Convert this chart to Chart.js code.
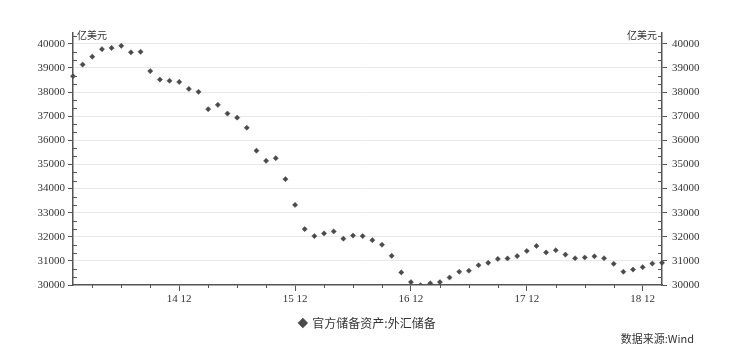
<!DOCTYPE html>
<html>
<head>
<meta charset="utf-8">
<script src="https://cdn.jsdelivr.net/npm/chart.js@4/dist/chart.umd.min.js"></script>
<style>
  html, body { margin: 0; padding: 0; background: #fff; }
  #wrap { width: 735px; height: 352px; }
</style>
</head>
<body>
<div id="wrap"><canvas id="myChart" width="735" height="352"></canvas></div>
<script>
// months 2014-01 .. 2019-02
const months = [
  '14 01','14 02','14 03','14 04','14 05','14 06','14 07','14 08','14 09','14 10','14 11','14 12',
  '15 01','15 02','15 03','15 04','15 05','15 06','15 07','15 08','15 09','15 10','15 11','15 12',
  '16 01','16 02','16 03','16 04','16 05','16 06','16 07','16 08','16 09','16 10','16 11','16 12',
  '17 01','17 02','17 03','17 04','17 05','17 06','17 07','17 08','17 09','17 10','17 11','17 12',
  '18 01','18 02','18 03','18 04','18 05','18 06','18 07','18 08','18 09','18 10','18 11','18 12',
  '19 01','19 02'
];

// 官方储备资产:外汇储备 (亿美元)
const reserves = [
  38660, 39140, 39470, 39780, 39830, 39920, 39650, 39670, 38870, 38520, 38470, 38420,
  38130, 38010, 37290, 37470, 37110, 36940, 36520, 35570, 35150, 35260, 34390, 33320,
  32320, 32030, 32140, 32220, 31920, 32050, 32030, 31860, 31670, 31210, 30520, 30120,
  29990, 30070, 30120, 30310, 30550, 30590, 30820, 30920, 31080, 31100, 31200, 31410,
  31620, 31350, 31440, 31260, 31110, 31140, 31190, 31110, 30880, 30550, 30640, 30740,
  30890, 30920
];

const yTicks = [30000, 31000, 32000, 33000, 34000, 35000, 36000, 37000, 38000, 39000, 40000];

const seriesName = '官方储备资产:外汇储备';
const unitLabel = '亿美元';
const sourceText = '数据来源:Wind';

const axisColor = '#555555';
const textColor = '#333333';
const tickFont = { family: '"Liberation Serif", "Times New Roman", serif', size: 11 };

// minor tick marks, unit labels and source note
const extras = {
  id: 'extras',
  afterDraw(chart) {
    const ctx = chart.ctx;
    const x = chart.scales.x;
    const y = chart.scales.y;
    const area = chart.chartArea;
    ctx.save();
    ctx.strokeStyle = axisColor;
    ctx.lineWidth = 1;
    // y minor ticks (inside)
    for (let k = 0; k <= 31; k++) {
      if (k % 3 === 0) continue;
      const v = 30000 + k * 1000 / 3;
      const py = Math.round(y.getPixelForValue(v)) + 0.5;
      ctx.beginPath();
      ctx.moveTo(area.left, py); ctx.lineTo(area.left + 4, py);
      ctx.moveTo(area.right, py); ctx.lineTo(area.right - 4, py);
      ctx.stroke();
    }
    // x minor ticks every quarter
    months.forEach((m, i) => {
      if (i % 3 !== 2 || i % 12 === 11) return;
      const px = Math.round(x.getPixelForValue(i)) + 0.5;
      ctx.beginPath();
      ctx.moveTo(px, area.bottom); ctx.lineTo(px, area.bottom + 3);
      ctx.stroke();
    });
    // unit labels
    ctx.fillStyle = textColor;
    ctx.font = '10px "Noto Sans CJK SC"';
    ctx.textBaseline = 'middle';
    ctx.textAlign = 'left';
    ctx.fillText(unitLabel, area.left + 4, 35);
    ctx.textAlign = 'right';
    ctx.fillText(unitLabel, area.right - 5, 35);
    // source
    ctx.font = '11px "Noto Sans CJK SC"';
    ctx.fillText(sourceText, 694, 339);
    ctx.restore();
  }
};

const ctx = document.getElementById('myChart').getContext('2d');
const myChart = new Chart(ctx, {
  type: 'line',
  data: {
    labels: months,
    datasets: [{
      label: seriesName,
      data: reserves,
      showLine: false,
      pointStyle: 'rectRot',
      pointRadius: 2.6,
      pointBackgroundColor: '#4a4a4a',
      pointBorderColor: '#4a4a4a',
      pointBorderWidth: 0.5,
      yAxisID: 'y'
    }]
  },
  options: {
    responsive: false,
    animation: false,
    layout: { padding: { top: 33, left: 0, right: 0, bottom: 13 } },
    scales: {
      x: {
        type: 'category',
        offset: false,
        border: { color: axisColor, width: 1.5 },
        grid: {
          drawOnChartArea: false,
          tickLength: 6,
          tickColor: c => (c.index % 12 === 11 ? axisColor : 'rgba(0,0,0,0)')
        },
        ticks: {
          autoSkip: false,
          maxRotation: 0,
          padding: 2,
          color: textColor,
          font: tickFont,
          callback: function (val, i) { return i % 12 === 11 ? months[i] : ''; }
        },
        afterFit: s => { s.height = 27; }
      },
      y: {
        position: 'left',
        min: 30000,
        max: 40450,
        afterBuildTicks: s => { s.ticks = yTicks.map(v => ({ value: v })); },
        border: { color: axisColor, width: 1.5 },
        grid: {
          color: c => (c.tick && c.tick.value === 30000 ? 'rgba(0,0,0,0)' : '#e8e8e8'),
          tickColor: axisColor,
          tickLength: 5
        },
        ticks: { color: textColor, font: tickFont, padding: 3, callback: v => String(v) },
        afterFit: s => { s.width = 73; }
      },
      y2: {
        position: 'right',
        min: 30000,
        max: 40450,
        afterBuildTicks: s => { s.ticks = yTicks.map(v => ({ value: v })); },
        border: { color: axisColor, width: 1.5 },
        grid: { drawOnChartArea: false, tickColor: axisColor, tickLength: 5 },
        ticks: { color: textColor, font: tickFont, padding: 5, callback: v => String(v) },
        afterFit: s => { s.width = 73; }
      }
    },
    plugins: {
      legend: {
        display: true,
        position: 'bottom',
        labels: {
          usePointStyle: true,
          pointStyle: 'rectRot',
          boxWidth: 7,
          boxHeight: 7,
          padding: 5,
          color: textColor,
          font: { family: 'Noto Sans CJK SC', size: 12 }
        }
      },
      tooltip: { enabled: false }
    }
  },
  plugins: [extras]
});
</script>
</body>
</html>
